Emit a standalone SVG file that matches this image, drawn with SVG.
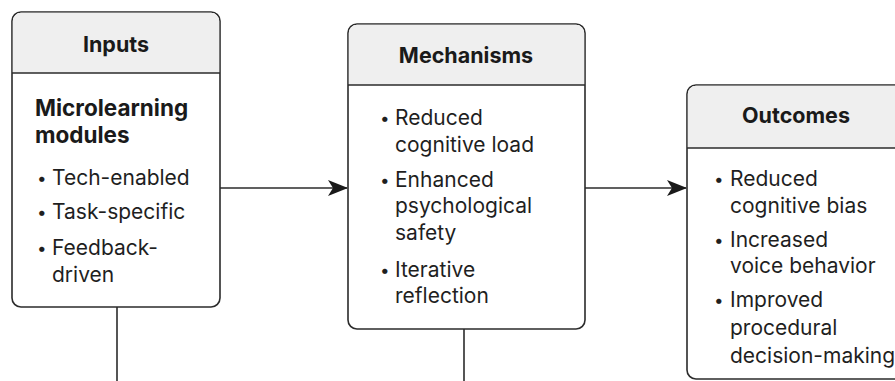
<svg xmlns="http://www.w3.org/2000/svg" width="895" height="381" viewBox="0 0 895 381">
<style>
.box{fill:#fff;stroke:#2b2b2b;stroke-width:1.6}
.hdr{fill:#efefef}
.div{stroke:#2b2b2b;stroke-width:1.6}
.title{font-family:Inter,"Liberation Sans",sans-serif;font-weight:700;font-size:21.5px;fill:#1a1a1a;text-anchor:middle}
.sub{font-family:Inter,"Liberation Sans",sans-serif;font-weight:700;font-size:22.5px;fill:#1a1a1a}
.item{font-family:Inter,"Liberation Sans",sans-serif;font-size:21px;fill:#1f1f1f}
.dot{font-family:Inter,"Liberation Sans",sans-serif;font-size:17px;fill:#1f1f1f}
.conn{stroke:#2b2b2b;stroke-width:1.6;fill:none}
</style>
<defs>
<marker id="arr" viewBox="0 0 20 16" refX="19" refY="8" markerWidth="20" markerHeight="16" markerUnits="userSpaceOnUse" orient="auto">
<path d="M0,0 L20,8 L0,16 L5,8 Z" fill="#1a1a1a"/>
</marker>
</defs>
<g id="connectors">
<line class="conn" x1="220" y1="188" x2="347" y2="188" marker-end="url(#arr)"/>
<line class="conn" x1="585" y1="188" x2="686" y2="188" marker-end="url(#arr)"/>
<line class="conn" x1="117" y1="307" x2="117" y2="381"/>
<line class="conn" x1="464" y1="329" x2="464" y2="381"/>
</g>
<g id="inputs">
<rect class="box" x="12" y="12" width="208" height="295" rx="9"/>
<path class="hdr" d="M21,12.8 H211 A8.2,8.2 0 0 1 219.2,21 V73 H12.8 V21 A8.2,8.2 0 0 1 21,12.8 Z"/>
<line class="div" x1="12" y1="73" x2="220" y2="73"/>
<text class="title" x="116" y="52">Inputs</text>
<text class="sub" x="35" y="116">Microlearning</text>
<text class="sub" x="35" y="143">modules</text>
<text class="dot" x="37" y="184">•</text><text class="item" x="52" y="185">Tech-enabled</text>
<text class="dot" x="37" y="218">•</text><text class="item" x="52" y="219">Task-specific</text>
<text class="dot" x="37" y="254">•</text><text class="item" x="52" y="255">Feedback-</text>
<text class="item" x="52" y="282">driven</text>
</g>
<g id="mechanisms">
<rect class="box" x="348" y="24" width="237" height="305" rx="9"/>
<path class="hdr" d="M357,24.8 H576 A8.2,8.2 0 0 1 584.2,33 V85 H348.8 V33 A8.2,8.2 0 0 1 357,24.8 Z"/>
<line class="div" x1="348" y1="85" x2="585" y2="85"/>
<text class="title" x="466" y="63">Mechanisms</text>
<text class="dot" x="380" y="124">•</text><text class="item" x="395" y="125">Reduced</text>
<text class="item" x="395" y="152">cognitive load</text>
<text class="dot" x="380" y="186">•</text><text class="item" x="395" y="187">Enhanced</text>
<text class="item" x="395" y="213">psychological</text>
<text class="item" x="395" y="240">safety</text>
<text class="dot" x="380" y="276">•</text><text class="item" x="395" y="277">Iterative</text>
<text class="item" x="395" y="303">reflection</text>
</g>
<g id="outcomes">
<rect class="box" x="687" y="85" width="220" height="294" rx="9"/>
<path class="hdr" d="M696,85.8 H900 V148 H687.8 V94 A8.2,8.2 0 0 1 696,85.8 Z"/>
<line class="div" x1="687" y1="148" x2="907" y2="148"/>
<text class="title" x="796" y="123">Outcomes</text>
<text class="dot" x="714" y="185">•</text><text class="item" x="730" y="186">Reduced</text>
<text class="item" x="730" y="213">cognitive bias</text>
<text class="dot" x="714" y="246">•</text><text class="item" x="730" y="247">Increased</text>
<text class="item" x="730" y="273">voice behavior</text>
<text class="dot" x="714" y="306">•</text><text class="item" x="730" y="307">Improved</text>
<text class="item" x="730" y="335">procedural</text>
<text class="item" x="730" y="363">decision-making</text>
</g>
</svg>
